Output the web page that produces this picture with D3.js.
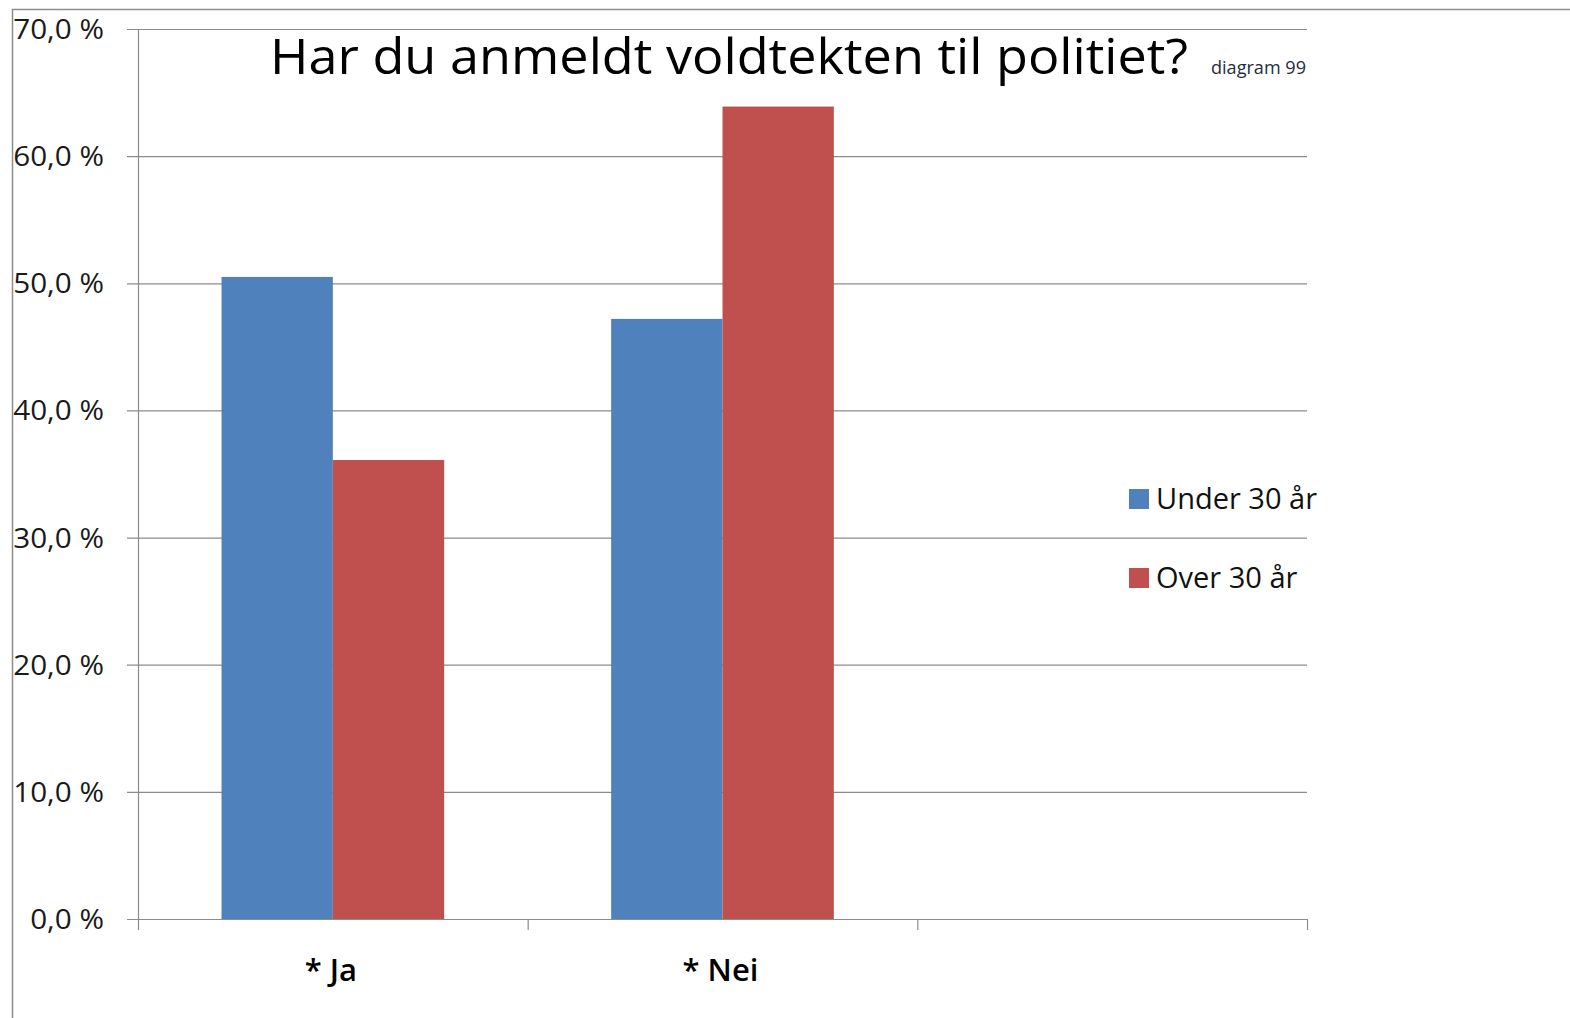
<!DOCTYPE html>
<html>
<head>
<meta charset="utf-8">
<script src="https://cdn.jsdelivr.net/npm/d3@7"></script>
<style>
  body { margin: 0; background: #fff; }
  svg { display: block; font-family: "Open Sans", "Noto Sans", sans-serif; }
</style>
</head>
<body>
<script>
// data
const categories = ['* Ja', '* Nei', '']
const seriesNames = ['Under 30 år', 'Over 30 år']
const under30 = [50.5, 47.2, null]
const over30 = [36.1, 63.9, null]
const yTicks = [0, 10, 20, 30, 40, 50, 60, 70]
const colors = ['#4f81bd', '#c0504d']

const W = 1570, H = 1018
const svg = d3.select('body').append('svg').attr('width', W).attr('height', H)

// outer frame
svg.append('path')
    .attr('d', 'M12.5,1018 V9.5 H1570')
    .attr('fill', 'none').attr('stroke', '#8c8c8c').attr('stroke-width', 1.5)

const plotLeft = 138, plotRight = 1307, plotTop = 29, plotBottom = 919

const x = d3.scaleBand().domain(categories).range([plotLeft, plotRight])
const y = d3.scaleLinear().domain([0, 70]).range([plotBottom, plotTop])

const fmt = v => v.toFixed(1).replace('.', ',') + ' %'

// grid
svg.append('g').selectAll('line').data(yTicks).join('line')
    .attr('x1', plotLeft - 11).attr('x2', plotRight)
    .attr('y1', d => y(d) + 0.5).attr('y2', d => y(d) + 0.5)
    .attr('stroke', '#8c8c8c').attr('stroke-width', 1.2)

// y axis line
svg.append('line')
    .attr('x1', plotLeft + 0.5).attr('x2', plotLeft + 0.5)
    .attr('y1', plotTop).attr('y2', plotBottom)
    .attr('stroke', '#8c8c8c').attr('stroke-width', 1.2)

// y labels, stretched a bit to the wider reference glyphs
svg.append('g').selectAll('text').data(yTicks).join('text')
    .attr('transform', d => `translate(104, ${y(d) + 10}) scale(1.06, 1)`)
    .attr('text-anchor', 'end')
    .attr('font-size', 28).attr('fill', '#1a1a1a')
    .text(d => fmt(d))

// x ticks (category boundaries)
const bounds = categories.map(c => x(c)).concat([plotRight])
svg.append('g').selectAll('line').data(bounds).join('line')
    .attr('x1', d => d + 0.5).attr('x2', d => d + 0.5)
    .attr('y1', plotBottom).attr('y2', plotBottom + 11)
    .attr('stroke', '#8c8c8c').attr('stroke-width', 1.2)

// bars
const inner = d3.scaleBand().domain([0, 1])
    .range([0, x.bandwidth()]).paddingOuter(0.75).paddingInner(0)
const series = [under30, over30]
series.forEach((vals, s) => {
    svg.append('g').selectAll('rect')
        .data(categories.map((c, i) => ({c, v: vals[i]})).filter(d => d.v != null))
        .join('rect')
        .attr('x', d => x(d.c) + inner(s))
        .attr('width', inner.bandwidth())
        .attr('y', d => y(d.v))
        .attr('height', d => plotBottom - y(d.v))
        .attr('fill', colors[s])
})

// category labels
svg.append('g').selectAll('text').data(categories).join('text')
    .attr('x', d => x(d) + x.bandwidth() / 2 - 2)
    .attr('y', 981)
    .attr('text-anchor', 'middle')
    .attr('font-size', 31).attr('font-weight', 600).attr('fill', '#000')
    .text(d => d)

// title
svg.append('text')
    .attr('x', 270).attr('y', 74)
    .attr('font-size', 49).attr('fill', '#000')
    .attr('textLength', 918).attr('lengthAdjust', 'spacingAndGlyphs')
    .text('Har du anmeldt voldtekten til politiet?')
svg.append('text')
    .attr('x', 1211).attr('y', 74)
    .attr('font-size', 18).attr('fill', '#1f2d3d')
    .attr('textLength', 95).attr('lengthAdjust', 'spacingAndGlyphs')
    .text('diagram 99')

// legend
const legend = svg.append('g').selectAll('g').data(seriesNames).join('g')
    .attr('transform', (d, i) => `translate(1129, ${489 + i * 79})`)
legend.append('rect').attr('width', 20).attr('height', 20)
    .attr('fill', (d, i) => colors[i])
legend.append('text').attr('x', 27).attr('y', 20)
    .attr('font-size', 29).attr('fill', '#111')
    .text(d => d)
</script>
</body>
</html>
